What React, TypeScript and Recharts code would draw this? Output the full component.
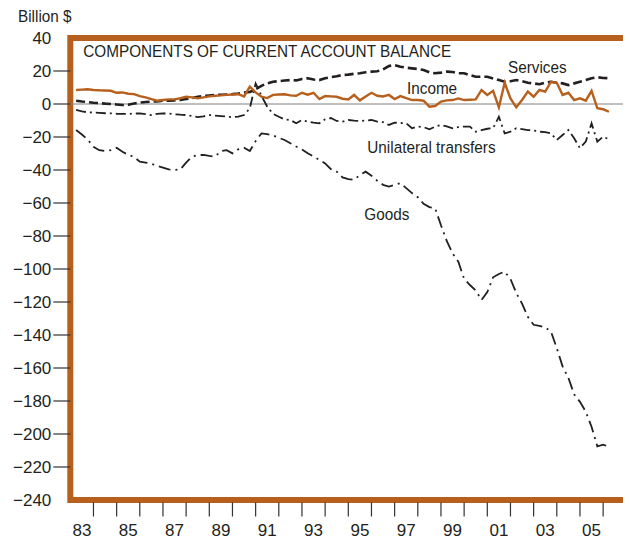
import React from "react";
import {
  LineChart,
  Line,
  XAxis,
  YAxis,
  ReferenceLine,
  ReferenceArea,
} from "recharts";

// quarterly, 1983Q1 .. 2006Q1, plotted at quarter end
const START = 1983.25;

const income = [
  8.5, 8.7, 8.9, 8.5, 8.3, 8.2, 8.0, 6.8, 7.0, 6.2, 6.0, 4.8, 4.0, 3.0, 2.0, 2.4,
  2.8, 2.8, 3.5, 4.4, 4.0, 3.4, 4.0, 4.6, 5.0, 5.2, 5.5, 5.8, 6.0, 4.6, 10.5, 7.0,
  4.4, 3.6, 5.5, 5.8, 5.9, 5.2, 5.0, 6.8, 5.6, 6.8, 3.0, 4.8, 4.6, 4.4, 3.2, 2.8,
  5.5, 2.2, 4.5, 6.8, 5.0, 4.6, 5.5, 3.0, 4.8, 3.5, 2.4, 2.4, 2.0, -1.6, -1.2, 1.5,
  2.2, 2.4, 3.4, 2.4, 2.6, 2.8, 8.5, 5.5, 8.0, -2.0, 12.9, 3.4, -2.0, 2.4, 7.5, 4.4,
  8.5, 7.5, 13.5, 12.9, 5.5, 6.8, 2.4, 3.4, 2.0, 8.0, -2.6, -3.2, -4.7,
];

const services = [
  2.0, 1.5, 1.2, 0.8, 0.5, 0.2, 0, -0.3, -0.6, -0.5, 0.3, 0.8, 1.2, 1.4, 1.6, 2.0,
  2.0, 2.2, 2.4, 3.0, 3.6, 4.4, 4.8, 5.2, 5.5, 5.6, 5.8, 6.0, 6.3, 7.0, 7.3, 9.0,
  11.0, 12.5, 13.5, 13.8, 14.2, 14.5, 14.3, 15.2, 15.6, 14.8, 14.5, 15.6, 16.3, 16.8, 17.6, 17.8,
  18.3, 18.6, 19.2, 19.6, 19.8, 21.0, 23.0, 23.6, 22.6, 22.0, 21.6, 21.2, 20.6, 19.2, 18.6, 19.0,
  19.6, 19.4, 18.6, 18.6, 17.5, 16.5, 16.5, 16.5, 15.5, 14.5, 13.5, 13.8, 14.5, 13.8, 12.9, 12.5,
  12.0, 13.0, 13.5, 12.9, 12.5, 11.5, 12.5, 13.5, 14.5, 15.6, 16.2, 15.8, 15.6,
];

const transfers = [
  -3.6, -4.5, -5.0, -5.2, -5.4, -5.6, -5.7, -5.9, -6.0, -6.0, -5.8, -5.7, -6.2, -6.7, -6.0, -5.7,
  -5.8, -6.2, -6.5, -6.7, -7.2, -8.0, -7.5, -6.7, -7.0, -7.3, -7.6, -8.0, -7.6, -6.7, -2.6, 12.5,
  5.0, -1.6, -6.0, -7.7, -9.3, -9.7, -11.7, -9.7, -10.7, -11.3, -11.7, -9.3, -8.5, -10.3, -10.7, -9.7,
  -10.1, -10.3, -10.0, -9.7, -10.7, -11.0, -12.7, -11.3, -11.5, -11.7, -14.7, -13.7, -14.0, -15.3, -13.7, -12.7,
  -13.5, -14.7, -14.0, -13.7, -13.7, -16.8, -15.8, -15.0, -14.7, -7.7, -17.8, -16.8, -14.7, -15.2, -15.8, -16.0,
  -16.8, -17.0, -17.8, -21.8, -18.8, -15.8, -20.8, -26.8, -22.8, -11.7, -22.8, -19.8, -21.4,
];

const goods = [
  -15.8, -18.5, -21.5, -25.9, -28.0, -28.5, -27.9, -26.5, -29.0, -30.8, -32.0, -35.0, -35.5, -36.2, -37.5, -38.5,
  -39.6, -40.0, -39.6, -35.5, -32.0, -30.9, -30.9, -31.5, -31.9, -28.5, -28.0, -29.9, -27.5, -26.5, -28.5, -22.5,
  -17.8, -18.2, -19.0, -20.5, -21.8, -23.8, -25.8, -27.5, -29.8, -31.8, -33.8, -36.0, -39.5, -41.0, -44.5, -45.5,
  -46.0, -43.0, -41.0, -43.5, -46.5, -49.0, -50.0, -49.0, -48.0, -51.0, -54.0, -56.5, -60.5, -62.5, -63.2, -73.5,
  -83.0, -90.5, -95.6, -106.0, -109.7, -113.0, -118.8, -114.0, -105.0, -103.0, -101.6, -106.0, -114.5, -121.0, -129.0, -133.8,
  -134.5, -135.3, -138.0, -148.0, -159.0, -166.0, -176.0, -180.5, -186.5, -195.6, -207.5, -206.5, -207.7,
];

const yTicks = [40, 20, 0, -20, -40, -60, -80, -100, -120, -140, -160, -180, -200, -220, -240];
// year boundaries get a tick mark, odd years get a label centred in the year
const yearMarks = [1984, 1985, 1986, 1987, 1988, 1989, 1990, 1991, 1992, 1993, 1994, 1995, 1996, 1997, 1998, 1999, 2000, 2001, 2002, 2003, 2004, 2005, 2006];
const yearLabels = [1983, 1985, 1987, 1989, 1991, 1993, 1995, 1997, 1999, 2001, 2003, 2005];

const chartData = goods.map((g, i) => ({
  t: START + i * 0.25,
  goods: g,
  transfers: transfers[i],
  services: services[i],
  income: income[i],
}));

const xTicks = [...yearMarks, ...yearLabels.map((y) => y + 0.5)].sort((a, b) => a - b);

const ORANGE = "#b75f1c";
const INK = "#231f20";
const FONT = '"Liberation Sans", Arial, Helvetica, sans-serif';

const YTick = (props: any) => {
  const { x, y, payload } = props;
  const v = payload.value;
  const edge = v === 40 || v === -240;
  return (
    <g>
      {!edge && <line x1={x + 2} x2={x + 19} y1={y} y2={y} stroke="#333" strokeWidth={1.2} />}
      <text x={x} y={y} dy="0.36em" textAnchor="end" fill={INK} fontSize={17} fontFamily={FONT}>
        {v < 0 ? "\u2212" + Math.abs(v) : String(v)}
      </text>
    </g>
  );
};

const XTick = (props: any) => {
  const { x, y, payload } = props;
  const v = payload.value;
  if (Number.isInteger(v)) {
    return <line x1={x} x2={x} y1={y + 2.5} y2={y + 16.5} stroke="#333" strokeWidth={1.2} />;
  }
  return (
    <text x={x} y={y + 36} textAnchor="middle" fill={INK} fontSize={17} fontFamily={FONT}>
      {String(Math.floor(v)).slice(2)}
    </text>
  );
};

// annotation text, slightly condensed like the original typesetting
const Note = ({ x, y, children }: { x: number; y: number; children: React.ReactNode }) => (
  <text
    transform={`translate(${x},${y}) scale(0.9,1)`}
    fill={INK}
    fontSize={17}
    fontFamily={FONT}
  >
    {children}
  </text>
);

export default function App() {
  return (
    <div style={{ position: "relative", width: 623, height: 532 }}>
      <LineChart
        width={623}
        height={532}
        data={chartData}
        margin={{ top: 30, right: 4.7, left: 0, bottom: 0 }}
      >
        <XAxis
          dataKey="t"
          type="number"
          domain={[1983, 2007]}
          ticks={xTicks}
          interval={0}
          tickSize={0}
          tickMargin={0}
          axisLine={false}
          tickLine={false}
          height={40}
          tick={<XTick />}
        />
        <YAxis
          type="number"
          domain={[-240, 40]}
          ticks={yTicks}
          interval={0}
          width={62.3}
          tickSize={17}
          tickMargin={2}
          axisLine={false}
          tickLine={false}
          tick={<YTick />}
        />
        <ReferenceLine y={0} stroke="#808080" strokeWidth={1} />
        <Line
          type="linear"
          dataKey="goods"
          stroke={INK}
          strokeWidth={1.8}
          strokeDasharray="12 5 2 5"
          dot={false}
          isAnimationActive={false}
        />
        <Line
          type="linear"
          dataKey="transfers"
          stroke={INK}
          strokeWidth={1.8}
          strokeDasharray="10 4 2 4"
          dot={false}
          isAnimationActive={false}
        />
        <Line
          type="linear"
          dataKey="services"
          stroke={INK}
          strokeWidth={2.6}
          strokeDasharray="9 4"
          dot={false}
          isAnimationActive={false}
        />
        <Line
          type="linear"
          dataKey="income"
          stroke={ORANGE}
          strokeWidth={2.4}
          dot={false}
          isAnimationActive={false}
        />
        <ReferenceArea
          x1={1983}
          x2={2007}
          y1={-240}
          y2={40}
          fill="none"
          fillOpacity={0}
          stroke={ORANGE}
          strokeWidth={6}
          ifOverflow="visible"
        />
      </LineChart>
      <svg
        width={623}
        height={532}
        style={{ position: "absolute", left: 0, top: 0, pointerEvents: "none", overflow: "visible" }}
      >
        <Note x={10} y={14}>Billion $</Note>
        <Note x={75.3} y={49.3}>COMPONENTS OF CURRENT ACCOUNT BALANCE</Note>
        <Note x={500} y={65.3}>Services</Note>
        <Note x={399} y={86}>Income</Note>
        <Note x={359.3} y={145}>Unilateral transfers</Note>
        <Note x={356.3} y={212}>Goods</Note>
      </svg>
    </div>
  );
}
